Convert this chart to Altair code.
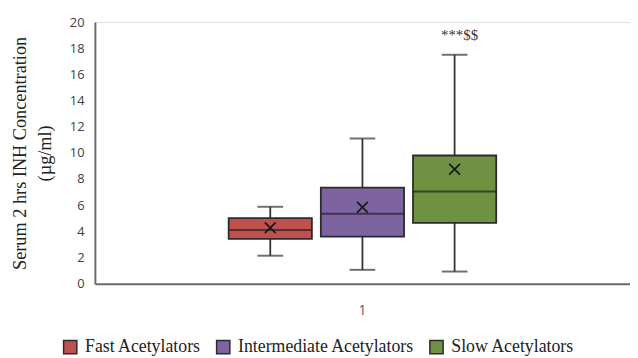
import altair as alt
import pandas as pd

series = ["Fast Acetylators", "Intermediate Acetylators", "Slow Acetylators"]
category = ["1", "1", "1"]
whisker_low = [2.14, 1.06, 0.93]
q1 = [3.42, 3.60, 4.65]
median = [4.10, 5.35, 7.05]
q3 = [5.02, 7.35, 9.80]
whisker_high = [5.88, 11.10, 17.50]
mean = [4.28, 5.85, 8.75]
colors = ["#C0504D", "#7E63A1", "#6F9142"]

annot_series = ["Slow Acetylators"]
annot_text = ["***$$"]
annot_y = [17.50]

y_ticks = list(range(0, 21, 2))

df = pd.DataFrame({
    "cat": category, "series": series, "lo": whisker_low, "q1": q1,
    "med": median, "q3": q3, "hi": whisker_high, "mean": mean,
})
ann = pd.DataFrame({"cat": ["1"], "series": annot_series, "label": annot_text, "y": annot_y})

serif = "Liberation Serif"
sans = "Open Sans"

x_enc = alt.X("cat:N", title=None,
              scale=alt.Scale(paddingOuter=0.5, paddingInner=0),
              axis=alt.Axis(labelAngle=0, ticks=False, labelFont=sans, labelFontSize=14,
                            labelColor="#595959", domainColor="#6b6b6b", domainWidth=2,
                            labelPadding=20))
xo_enc = alt.XOffset("series:N", sort=series,
                     scale=alt.Scale(paddingInner=0.097, paddingOuter=0))
y_scale = alt.Scale(domain=[0, 20], nice=False)
y_axis = alt.Axis(values=y_ticks, grid=False, ticks=False, labelFont=sans,
                  labelFontSize=13, labelColor="#404040", labelPadding=11,
                  labelOverlap=False, labelFontWeight=500,
                  domainColor="#6b6b6b", domainWidth=2,
                  titleFont=serif, titleFontSize=18.5, titleFontWeight="normal",
                  titleColor="#222", titlePadding=15, titleLineHeight=25)
y_title = ["Serum 2 hrs INH Concentration", "(µg/ml)"]


def yq(field):
    return alt.Y(field, scale=y_scale, axis=y_axis, title=y_title)


color_enc = alt.Color("series:N", sort=series,
                      scale=alt.Scale(domain=series, range=colors),
                      legend=alt.Legend(title=None, orient="none", direction="horizontal",
                                        legendX=-34, legendY=320,
                                        symbolType="square", symbolSize=180,
                                        symbolStrokeColor="#2b2b2b", symbolStrokeWidth=1.5,
                                        symbolOpacity=1, labelLimit=400,
                                        labelFont=serif, labelFontSize=18, labelColor="#222",
                                        columnPadding=12, labelOffset=6))

base = alt.Chart(df)

whisk_low = base.mark_rule(color="#333", strokeWidth=1.8).encode(
    x=x_enc, xOffset=xo_enc, y=yq("lo:Q"), y2="q1:Q")
whisk_high = base.mark_rule(color="#333", strokeWidth=1.8).encode(
    x=x_enc, xOffset=xo_enc, y=yq("q3:Q"), y2="hi:Q")

caps_low = base.mark_tick(color="#333", size=26, thickness=2).encode(
    x=x_enc, xOffset=xo_enc, y=yq("lo:Q"))
caps_high = base.mark_tick(color="#333", size=26, thickness=2).encode(
    x=x_enc, xOffset=xo_enc, y=yq("hi:Q"))

boxes = base.mark_bar(stroke="#2b2b2b", strokeWidth=1.8, opacity=1).encode(
    x=x_enc, xOffset=xo_enc, y=yq("q1:Q"), y2="q3:Q", color=color_enc)

medians = base.mark_tick(color="#222", size=84, thickness=2).encode(
    x=x_enc, xOffset=xo_enc, y=yq("med:Q"))

means = base.mark_point(shape="M-1,-1L1,1M-1,1L1,-1", size=120, filled=False,
                        color="#1a1a1a", strokeWidth=1.8, opacity=1).encode(
    x=x_enc, xOffset=xo_enc, y=yq("mean:Q"))

annot = alt.Chart(ann).mark_text(font=serif, fontSize=15, color="#333", dy=-20, dx=5,
                                 baseline="middle").encode(
    x=x_enc, xOffset=xo_enc, y=yq("y:Q"), text="label:N")

chart = alt.layer(whisk_low, whisk_high, caps_low, caps_high, boxes, medians, means, annot).properties(
    width=542, height=265,
    autosize=alt.AutoSizeParams(type="none"),
    padding={"left": 88, "top": 12, "right": 0, "bottom": 73},
).configure_view(stroke=None).configure_axisY(labelOverlap=False).configure(background="white")

chart.save("out.html", embed_options={"renderer": "svg", "actions": False})
